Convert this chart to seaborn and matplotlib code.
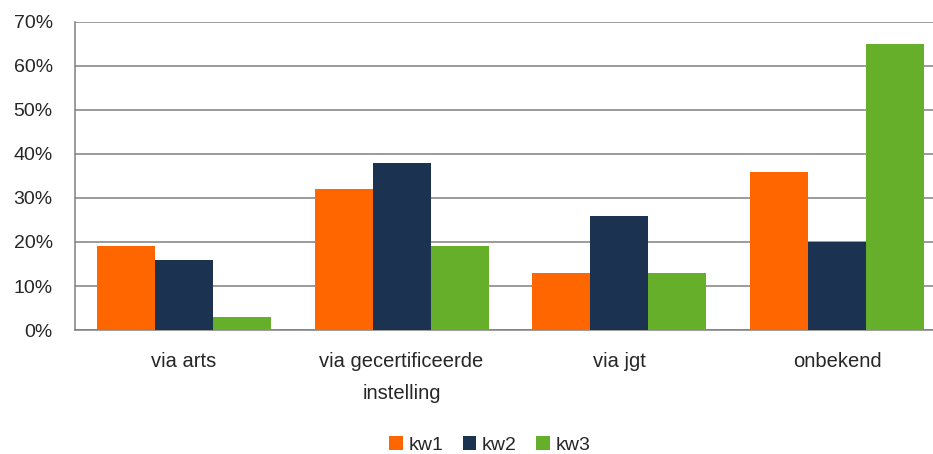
import pandas as pd
import matplotlib.pyplot as plt
import seaborn as sns
from matplotlib.ticker import PercentFormatter

# data
categorieen = ['via arts', 'via gecertificeerde\ninstelling', 'via jgt', 'onbekend']
kw1 = [19, 32, 13, 36]
kw2 = [16, 38, 26, 20]
kw3 = [3, 19, 13, 65]
reeksen = ['kw1', 'kw2', 'kw3']
kleuren = ['#FF6600', '#1B3250', '#66AF2B']

df = pd.DataFrame({'categorie': categorieen, 'kw1': kw1, 'kw2': kw2, 'kw3': kw3})
df = df.melt(id_vars='categorie', value_vars=reeksen, var_name='kwartaal', value_name='waarde')

sns.set_style('white')
plt.rcParams['font.family'] = ['Liberation Sans', 'DejaVu Sans']

fig = plt.figure(figsize=(9.33, 4.54), dpi=100)
# de as loopt iets voorbij de rechterrand, net als in het origineel
ax = fig.add_axes([0.0804, 0.273, 0.9335, 0.679])

sns.barplot(data=df, x='categorie', y='waarde', hue='kwartaal', palette=kleuren,
            width=0.80, gap=0, saturation=1, edgecolor='none', ax=ax, zorder=3)

ax.set_ylim(0, 70)
ax.set_yticks(range(0, 71, 10))
ax.yaxis.set_major_formatter(PercentFormatter(decimals=0))
ax.grid(axis='y', color='#808080', linewidth=1.1, zorder=0)
ax.set_axisbelow(True)
ax.set_xlim(-0.5, 3.5)

for s in ['top', 'right']:
    ax.spines[s].set_visible(False)
for s in ['left', 'bottom']:
    ax.spines[s].set_color('#808080')
    ax.spines[s].set_linewidth(1.1)

ax.tick_params(axis='x', length=0, pad=16, labelsize=14.5)
ax.tick_params(axis='y', length=0, pad=16, labelsize=14)
for lbl in ax.get_xticklabels():
    lbl.set_linespacing(1.85)
ax.set_xlabel('')
ax.set_ylabel('')

ax.legend(loc='center', bbox_to_anchor=(0.525, 0.02), bbox_transform=fig.transFigure,
          ncol=3, frameon=False, fontsize=14, handlelength=0.7, handleheight=0.7,
          handletextpad=0.3, columnspacing=1.0)

plt.savefig('out.png', dpi=100)
